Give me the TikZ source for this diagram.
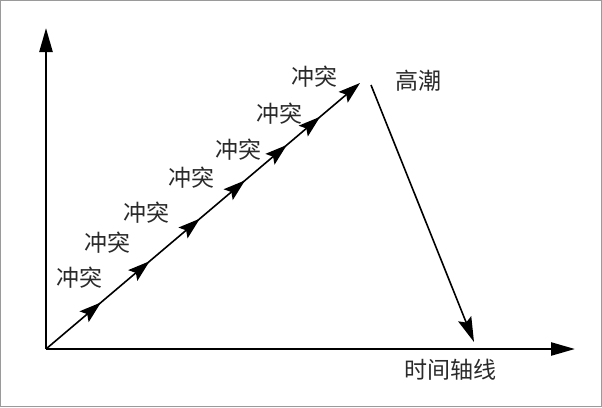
\documentclass[tikz,border=0pt]{standalone}
\usepackage{fontspec}
\newfontfamily\cjk{Noto Sans CJK SC}
\usetikzlibrary{arrows.meta,decorations.markings}
\definecolor{txt}{HTML}{2A2A2A}
\definecolor{frame}{HTML}{9A9A9A}
\tikzset{
  tipmid/.tip={Stealth[length=22pt,width=14pt,inset=4pt]},
  axisline/.style={line width=2.4pt, -{Triangle[length=24pt,width=13pt]}},
  flowline/.style={line width=1.6pt},
  lbl/.style={font=\cjk\fontsize{23pt}{23pt}\selectfont, text=txt, inner sep=0pt},
  midtip/.style={decoration={markings,
     mark=at position 0.175 with {\arrow{tipmid}},
     mark=at position 0.33 with {\arrow{tipmid}},
     mark=at position 0.49 with {\arrow{tipmid}},
     mark=at position 0.634 with {\arrow{tipmid}},
     mark=at position 0.767 with {\arrow{tipmid}},
     mark=at position 0.873 with {\arrow{tipmid}}},
     postaction={decorate}}
}
\begin{document}
\begin{tikzpicture}[x=1pt,y=-1pt]
\draw[frame, line width=1pt, fill=white] (0.5,0.5) rectangle (601.5,406.5);
\useasboundingbox (0,0) rectangle (602,407);
\coordinate (O) at (46,349);
\coordinate (Ytop) at (46,28);
\coordinate (Xend) at (575,349);
\coordinate (P) at (360,83);
\coordinate (Q) at (371,85);
\coordinate (R) at (474,342);
\draw[axisline] (O) -- (Ytop);
\draw[axisline] (O) -- (Xend);
\draw[flowline, midtip, -tipmid] (O) -- (P);
\draw[flowline, -{Stealth[length=25pt,width=14pt,inset=4pt]}] (Q) -- (R);
\node[lbl] (c1) at (79,278) {冲突};
\node[lbl] (c2) at (107,243) {冲突};
\node[lbl] (c3) at (146,213) {冲突};
\node[lbl] (c4) at (191,178) {冲突};
\node[lbl] (c5) at (238,150) {冲突};
\node[lbl] (c6) at (279,114) {冲突};
\node[lbl] (c7) at (314,77) {冲突};
\node[lbl] (gc) at (418,81) {高潮};
\node[lbl] (tl) at (450,370) {时间轴线};
\end{tikzpicture}
\end{document}
